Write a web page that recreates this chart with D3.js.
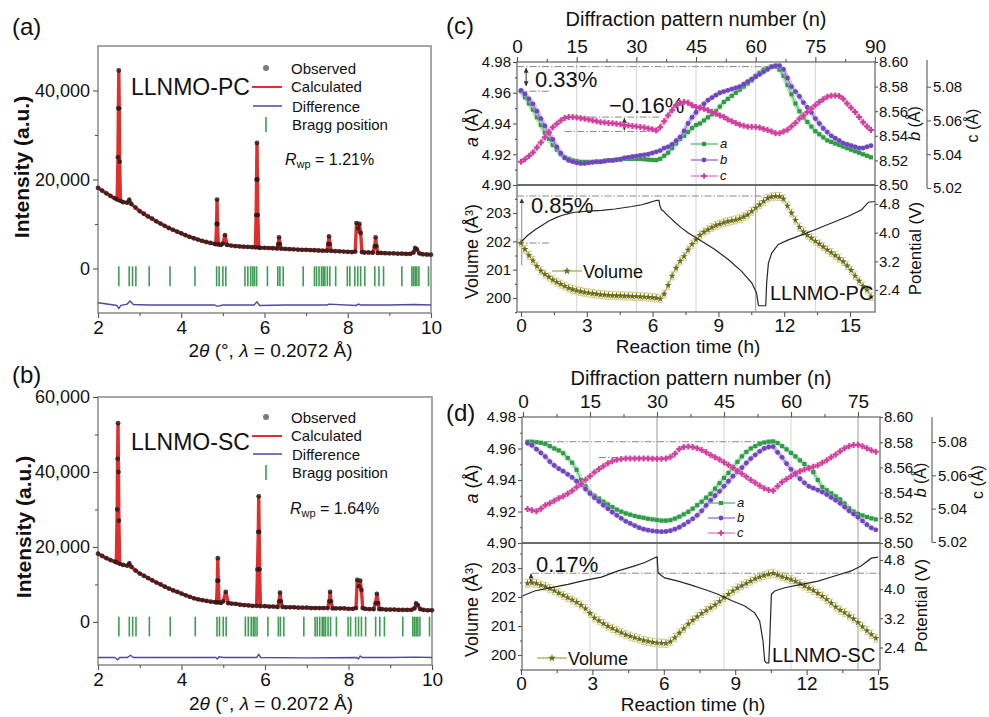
<!DOCTYPE html>
<html>
<head>
<meta charset="utf-8">
<script src="https://cdn.jsdelivr.net/npm/d3@7"></script>
<style>
  body { margin: 0; background: #fff; }
</style>
</head>
<body>
<svg id="fig" width="989" height="717"></svg>
<script>
var FONT = "'Liberation Sans', Arial, Helvetica, sans-serif";

// ---------------- data ----------------
// XRD, 2theta ticks
var xrdTicks = [2, 4, 6, 8, 10];
var xrdMinor = [3, 5, 7, 9];

// LLNMO-PC refinement profile [2theta, intensity]
var pcProfile = [[2.0,18100],[2.1,17500],[2.2,16900],[2.3,16300],[2.4,15800],[2.46,15500],[2.48,25000],[2.49,36000],[2.50,44500],[2.51,36000],[2.52,24000],[2.54,15200],
  [2.6,14900],[2.7,14800],[2.75,15400],[2.8,14500],[2.9,13700],[3.0,12900],[3.1,12300],[3.2,11700],[3.3,11200],[3.4,10600],[3.5,10100],[3.6,9600],[3.7,9100],
  [3.8,8700],[3.9,8300],[4.0,7900],[4.1,7500],[4.2,7100],[4.3,6800],[4.4,6500],[4.5,6200],[4.6,5950],[4.7,5750],[4.8,5550],[4.83,5500],[4.85,10000],[4.86,15500],
  [4.87,10000],[4.89,5400],[4.95,5300],[5.0,5600],[5.05,7500],[5.1,5300],[5.2,5150],[5.3,5050],[5.4,4950],[5.5,4900],[5.6,4850],[5.7,4800],[5.78,4750],
  [5.80,12000],[5.81,20000],[5.82,28200],[5.83,20000],[5.84,12000],[5.86,4700],[5.9,4650],[6.0,4650],[6.1,4600],[6.2,4550],[6.3,4500],[6.33,5500],[6.35,7000],
  [6.37,5500],[6.4,4450],[6.5,4400],[6.6,4350],[6.7,4300],[6.8,4250],[6.9,4200],[7.0,4200],[7.1,4150],[7.2,4100],[7.3,4050],[7.4,4000],[7.5,4000],[7.53,5500],
  [7.55,7200],[7.57,5500],[7.6,3950],[7.7,3900],[7.8,3850],[7.9,3800],[8.0,3750],[8.1,3700],[8.18,3800],[8.21,10200],[8.25,9000],[8.28,10000],[8.31,8000],
  [8.34,3700],[8.4,3600],[8.5,3600],[8.6,3550],[8.65,5000],[8.67,7000],[8.69,5000],[8.72,3500],[8.8,3500],[8.9,3450],[9.0,3400],[9.1,3400],[9.2,3350],
  [9.3,3350],[9.4,3300],[9.5,3300],[9.58,3600],[9.62,4600],[9.66,4300],[9.72,3400],[9.8,3200],[9.9,3150],[10.0,3100]];
var pcDiff = [[2.0,-7700],[2.3,-8100],[2.45,-8300],[2.5,-9000],[2.55,-8300],[2.7,-8000],[2.77,-7300],[2.85,-8100],[3.2,-8200],[4.0,-8200],[4.8,-8200],[4.86,-8500],
  [5.0,-8200],[5.75,-8200],[5.82,-7500],[5.88,-8300],[6.5,-8200],[7.5,-8200],[7.55,-8000],[8.2,-8300],[8.26,-8000],[8.3,-8200],[9.0,-8200],[9.6,-8100],[10.0,-8200]];

// LLNMO-SC refinement profile [2theta, intensity]
var scProfile = [[2.0,18200],[2.1,17600],[2.2,17000],[2.3,16500],[2.4,16100],[2.44,15900],[2.46,30000],[2.47,43500],[2.48,53000],[2.49,40000],[2.50,27000],[2.52,15500],
  [2.6,15200],[2.7,15000],[2.75,15600],[2.8,14700],[2.9,13700],[3.0,12900],[3.1,12300],[3.2,11700],[3.3,11100],[3.4,10500],[3.5,10000],[3.6,9400],[3.7,8900],
  [3.8,8400],[3.9,8000],[4.0,7550],[4.1,7100],[4.2,6700],[4.3,6300],[4.4,6000],[4.5,5800],[4.6,5600],[4.7,5400],[4.8,5300],[4.84,5200],[4.86,11000],[4.87,17000],
  [4.88,11000],[4.90,5200],[4.95,5100],[5.0,5500],[5.06,8000],[5.12,5000],[5.2,4900],[5.3,4800],[5.4,4600],[5.5,4500],[5.6,4400],[5.7,4300],[5.80,4300],
  [5.82,14000],[5.84,24000],[5.85,33500],[5.86,24000],[5.87,14000],[5.89,4200],[6.0,4200],[6.1,4100],[6.2,4100],[6.3,4000],[6.34,5500],[6.36,7800],[6.38,5500],
  [6.42,4000],[6.5,3900],[6.6,3900],[6.7,3900],[6.8,3800],[6.9,3800],[7.0,3800],[7.1,3700],[7.2,3700],[7.3,3700],[7.4,3700],[7.5,3700],[7.54,5500],[7.56,8000],
  [7.58,5500],[7.62,3600],[7.7,3600],[7.8,3600],[7.9,3600],[8.0,3500],[8.1,3500],[8.18,3700],[8.21,11200],[8.25,9500],[8.28,11000],[8.31,8500],[8.34,3700],
  [8.4,3500],[8.5,3400],[8.6,3400],[8.65,5000],[8.68,7500],[8.71,5000],[8.74,3400],[8.8,3400],[8.9,3300],[9.0,3300],[9.1,3300],[9.2,3200],[9.3,3200],[9.4,3200],
  [9.5,3200],[9.58,3600],[9.62,4900],[9.66,4500],[9.72,3400],[9.8,3200],[9.9,3100],[10.0,3100]];
var scDiff = [[2.0,-9500],[2.4,-9500],[2.47,-10100],[2.52,-9500],[2.7,-9500],[2.78,-8900],[2.85,-9500],[4.0,-9500],[4.82,-9500],[4.86,-9900],[4.9,-9300],[5.0,-9500],
  [5.8,-9500],[5.85,-8700],[5.9,-9500],[7.0,-9600],[8.2,-9500],[8.24,-9900],[8.28,-9100],[8.33,-9500],[9.0,-9500],[9.6,-9400],[10.0,-9500]];

// Bragg reflections (2theta)
var braggPos = [2.50,2.75,2.83,2.91,3.23,3.73,4.33,4.85,4.91,5.00,5.07,5.53,5.60,5.67,5.72,5.76,5.81,6.07,6.32,6.37,6.45,6.93,7.20,7.25,7.31,7.37,
  7.41,7.45,7.51,7.57,7.71,7.99,8.05,8.17,8.24,8.31,8.41,8.65,8.75,8.86,9.30,9.54,9.58,9.62,9.66,9.71,9.94];

// operando lattice parameters, one value per diffraction pattern n = 1, 2, ...
var pcA = [4.961,4.957,4.953,4.949,4.944,4.939,4.934,4.930,4.926,4.923,
  4.920,4.918,4.917,4.916,4.9155,4.915,4.915,4.915,4.915,4.915,
  4.915,4.9155,4.916,4.916,4.9165,4.9165,4.917,4.917,4.917,4.917,
  4.917,4.9168,4.9165,4.9163,4.9162,4.917,4.919,4.921,4.924,4.927,
  4.930,4.932,4.9345,4.937,4.939,4.940,4.942,4.944,4.946,4.948,
  4.951,4.954,4.956,4.958,4.960,4.962,4.964,4.966,4.968,4.971,
  4.973,4.975,4.976,4.977,4.977,4.975,4.971,4.965,4.959,4.953,
  4.948,4.944,4.941,4.938,4.935,4.933,4.931,4.929,4.928,4.927,
  4.926,4.925,4.924,4.923,4.922,4.921,4.920,4.919,4.918];
var pcB = [8.577,8.574,8.570,8.566,8.560,8.554,8.548,8.542,8.537,8.531,
  8.526,8.522,8.520,8.519,8.518,8.5175,8.5175,8.518,8.5185,8.519,
  8.519,8.5195,8.520,8.520,8.5205,8.521,8.522,8.5225,8.523,8.5235,
  8.524,8.5245,8.525,8.526,8.527,8.528,8.530,8.531,8.533,8.536,
  8.539,8.544,8.550,8.555,8.559,8.563,8.566,8.569,8.571,8.573,
  8.575,8.576,8.577,8.578,8.579,8.580,8.582,8.584,8.586,8.588,
  8.590,8.592,8.594,8.596,8.597,8.597,8.594,8.587,8.580,8.576,
  8.572,8.567,8.563,8.559,8.554,8.550,8.546,8.543,8.540,8.538,
  8.536,8.534,8.533,8.532,8.531,8.530,8.530,8.531,8.532];
var pcC = [5.0355,5.037,5.039,5.041,5.044,5.047,5.050,5.053,5.056,5.058,
  5.060,5.0615,5.062,5.062,5.0618,5.0613,5.061,5.0605,5.060,5.0595,
  5.059,5.0588,5.0585,5.0583,5.058,5.0577,5.0573,5.057,5.0567,5.0565,
  5.0562,5.0558,5.0553,5.0548,5.054,5.056,5.0595,5.063,5.066,5.069,
  5.0705,5.071,5.0705,5.069,5.068,5.0675,5.067,5.066,5.065,5.064,
  5.063,5.062,5.0605,5.0595,5.0585,5.0575,5.0568,5.0563,5.0563,5.0562,
  5.0558,5.055,5.0543,5.0535,5.0525,5.0525,5.0535,5.0545,5.0565,5.0585,
  5.061,5.063,5.065,5.067,5.069,5.071,5.0725,5.074,5.0747,5.0748,
  5.0745,5.0728,5.070,5.0675,5.065,5.062,5.059,5.0565,5.0543];
var pcVol = [201.94,201.72,201.50,201.32,201.12,200.96,200.84,200.74,200.64,200.56,
  200.49,200.42,200.35,200.30,200.26,200.23,200.20,200.18,200.16,200.14,
  200.12,200.11,200.10,200.09,200.08,200.08,200.07,200.07,200.06,200.06,
  200.05,200.04,200.03,200.02,200.00,199.97,200.14,200.45,200.78,201.06,
  201.30,201.47,201.70,201.90,202.06,202.22,202.33,202.41,202.49,202.56,
  202.61,202.66,202.70,202.73,202.76,202.80,202.87,202.94,203.06,203.18,
  203.29,203.41,203.52,203.57,203.59,203.58,203.50,203.25,203.00,202.75,
  202.50,202.34,202.22,202.12,202.01,201.91,201.81,201.70,201.60,201.50,
  201.40,201.29,201.14,200.98,200.78,200.60,200.42,200.29,200.05];
// potential [time h, V]
var pcPot = [[0.03,3.76],[0.3,3.92],[0.64,4.08],[1.0,4.22],[1.25,4.32],[1.6,4.42],[1.85,4.48],[2.2,4.54],[2.46,4.57],[3.07,4.60],[3.68,4.62],[4.29,4.66],
  [5.05,4.73],[5.5,4.78],[5.81,4.83],[6.0,4.87],[6.19,4.90],[6.29,4.90],[6.34,4.73],[6.41,4.64],[6.5,4.60],[6.57,4.55],[6.72,4.46],[7.02,4.29],[7.3,4.14],
  [7.63,3.99],[8.24,3.76],[8.84,3.53],[9.45,3.25],[10.06,2.92],[10.52,2.60],[10.74,2.32],[10.82,1.99],[10.85,1.96],[11.16,1.96],[11.2,2.60],[11.28,3.15],
  [11.43,3.43],[11.73,3.67],[12.19,3.80],[12.8,3.94],[13.4,4.08],[14.16,4.27],[14.92,4.46],[15.53,4.64],[15.84,4.85],[16.14,4.87]];

var scA = [4.9643,4.9643,4.9640,4.9636,4.9630,4.9615,4.9600,4.9588,4.9570,4.9540,
  4.9510,4.9465,4.9400,4.9360,4.9320,4.9300,4.9282,4.9262,4.9245,4.9228,
  4.9212,4.9199,4.9188,4.9180,4.9172,4.9165,4.9160,4.9154,4.9150,4.9146,
  4.9142,4.9142,4.9145,4.9155,4.9167,4.9182,4.9198,4.9218,4.9240,4.9262,
  4.9288,4.9312,4.9345,4.9380,4.9413,4.9445,4.9478,4.9515,4.9550,4.9578,
  4.9600,4.9615,4.9630,4.9638,4.9643,4.9645,4.9635,4.9615,4.9595,4.9572,
  4.9550,4.9525,4.9502,4.9478,4.9450,4.9400,4.9355,4.9335,4.9315,4.9296,
  4.9277,4.9250,4.9220,4.9200,4.9185,4.9175,4.9165,4.9157,4.9150];
var scB = [8.5791,8.5775,8.5745,8.5715,8.5685,8.5645,8.5615,8.5590,8.5570,8.5545,
  8.5520,8.5490,8.5462,8.5428,8.5392,8.5360,8.5330,8.5300,8.5272,8.5245,
  8.5220,8.5196,8.5172,8.5155,8.5138,8.5122,8.5110,8.5102,8.5096,8.5092,
  8.5090,8.5092,8.5098,8.5110,8.5125,8.5145,8.5168,8.5192,8.5220,8.5255,
  8.5298,8.5338,8.5375,8.5410,8.5450,8.5490,8.5530,8.5565,8.5598,8.5635,
  8.5670,8.5700,8.5728,8.5750,8.5762,8.5765,8.5720,8.5680,8.5630,8.5585,
  8.5545,8.5510,8.5478,8.5450,8.5435,8.5420,8.5405,8.5385,8.5362,8.5340,
  8.5315,8.5285,8.5255,8.5230,8.5205,8.5175,8.5145,8.5120,8.5105];
var scC = [5.0398,5.0390,5.0384,5.0400,5.0420,5.0433,5.0447,5.0462,5.0475,5.0490,
  5.0508,5.0528,5.0550,5.0573,5.0595,5.0618,5.0638,5.0655,5.0672,5.0685,
  5.0693,5.0698,5.0701,5.0701,5.0701,5.0701,5.0701,5.0701,5.0700,5.0700,
  5.0700,5.0701,5.0710,5.0730,5.0758,5.0770,5.0773,5.0770,5.0762,5.0752,
  5.0738,5.0722,5.0708,5.0695,5.0678,5.0662,5.0645,5.0628,5.0610,5.0592,
  5.0572,5.0555,5.0537,5.0522,5.0512,5.0508,5.0535,5.0560,5.0578,5.0595,
  5.0612,5.0625,5.0635,5.0643,5.0652,5.0661,5.0675,5.0690,5.0708,5.0725,
  5.0745,5.0762,5.0775,5.0782,5.0783,5.0775,5.0762,5.0750,5.0741];
var scVol = [202.47,202.49,202.47,202.41,202.36,202.29,202.22,202.14,202.06,201.98,
  201.90,201.82,201.72,201.60,201.44,201.28,201.18,201.08,200.99,200.92,
  200.84,200.77,200.70,200.65,200.60,200.55,200.50,200.47,200.44,200.42,
  200.41,200.40,200.46,200.60,200.76,200.91,201.07,201.20,201.32,201.43,
  201.53,201.63,201.73,201.85,201.98,202.10,202.21,202.31,202.39,202.47,
  202.55,202.63,202.69,202.74,202.79,202.82,202.76,202.70,202.65,202.60,
  202.54,202.46,202.38,202.30,202.23,202.13,202.03,201.92,201.79,201.66,
  201.55,201.46,201.35,201.25,201.12,200.98,200.84,200.71,200.58];
var scPot = [[0,3.81],[0.08,3.82],[0.57,3.95],[1.27,4.04],[1.97,4.13],[2.68,4.24],[3.38,4.33],[4.08,4.50],[4.78,4.64],[5.2,4.73],[5.62,4.86],[5.69,4.88],
  [5.72,4.88],[5.76,4.45],[5.83,4.41],[6.04,4.31],[6.6,4.22],[7.16,4.11],[7.72,3.99],[8.28,3.86],[8.84,3.69],[9.4,3.54],[9.82,3.35],[10.03,3.12],
  [10.17,2.57],[10.24,2.03],[10.31,1.98],[10.41,1.98],[10.45,2.57],[10.52,3.86],[10.66,3.95],[11.08,4.04],[11.78,4.13],[12.48,4.22],[13.18,4.36],
  [13.88,4.50],[14.3,4.64],[14.72,4.85],[15.0,4.88]];

var volErr = 0.14;

var nTicksPC = [0, 15, 30, 45, 60, 75, 90];
var nTicksSC = [0, 15, 30, 45, 60, 75];
var timeTicks = [0, 3, 6, 9, 12, 15];
var aTicks = [4.90, 4.92, 4.94, 4.96, 4.98];
var bTicks = [8.50, 8.52, 8.54, 8.56, 8.58, 8.60];
var cTicks = [5.02, 5.04, 5.06, 5.08];
var volTicks = [200, 201, 202, 203];
var potTicks = [2.4, 3.2, 4.0, 4.8];

// ---------------- helpers ----------------
var svg = d3.select("#fig");
var defs = svg.append("defs");
defs.append("marker").attr("id", "arr").attr("viewBox", "0 0 6 6")
  .attr("refX", 5.5).attr("refY", 3).attr("markerWidth", 5).attr("markerHeight", 5)
  .attr("orient", "auto-start-reverse")
  .append("path").attr("d", "M0,0L6,3L0,6Z").attr("fill", "#333");

function text(g, x, y, s, size, o) {
  o = o || {};
  var t = g.append("text").attr("x", x).attr("y", y)
    .attr("font-size", size).attr("font-family", FONT)
    .attr("fill", o.fill || "#111").attr("text-anchor", o.anchor || "start");
  if (o.weight) t.attr("font-weight", o.weight);
  if (o.italic) t.attr("font-style", "italic");
  if (o.rotate) t.attr("transform", "rotate(-90," + x + "," + y + ")");
  if (s !== null) t.text(s);
  return t;
}

function styleAxis(sel, size) {
  sel.select(".domain").remove();
  sel.selectAll(".tick line").attr("stroke", "#555").attr("stroke-width", 1.1);
  sel.selectAll(".tick text").attr("font-size", size).attr("font-family", FONT).attr("fill", "#111");
  return sel;
}

function axis(g, gen, tx, ty, size) {
  var a = g.append("g").attr("transform", "translate(" + tx + "," + ty + ")").call(gen);
  return styleAxis(a, size);
}

function dashLine(g, x1, y1, x2, y2) {
  g.append("line").attr("x1", x1).attr("y1", y1).attr("x2", x2).attr("y2", y2)
    .attr("stroke", "#888").attr("stroke-width", 1).attr("stroke-dasharray", "7,2,1.5,2");
}

function arrow(g, x, y1, y2, both, color) {
  var l = g.append("line").attr("x1", x).attr("y1", y1).attr("x2", x).attr("y2", y2)
    .attr("stroke", color || "#333").attr("stroke-width", 1).attr("marker-end", "url(#arr)");
  if (both) l.attr("marker-start", "url(#arr)");
}

// ---------------- XRD panels ----------------
function xrdPanel(o) {
  var g = svg.append("g");
  var x = d3.scaleLinear().domain([2, 10]).range([o.left, o.right]);
  var y = d3.scaleLinear().domain(o.yDom).range([o.bottom, o.top]);

  g.append("rect").attr("x", o.left).attr("y", o.top)
    .attr("width", o.right - o.left).attr("height", o.bottom - o.top)
    .attr("fill", "none").attr("stroke", "#8a8a8a").attr("stroke-width", 1.5);

  g.selectAll(".bragg").data(braggPos).join("line")
    .attr("x1", function(d) { return x(d); }).attr("x2", function(d) { return x(d); })
    .attr("y1", y(o.braggTop)).attr("y2", y(o.braggBot))
    .attr("stroke", "#3f9c55").attr("stroke-width", 1.6);

  var line = d3.line().x(function(d) { return x(d[0]); }).y(function(d) { return y(d[1]); });
  g.append("path").datum(o.diff).attr("d", line)
    .attr("fill", "none").attr("stroke", "#4a4aa6").attr("stroke-width", 1.4);
  g.append("path").datum(o.profile).attr("d", line)
    .attr("fill", "none").attr("stroke", "#e0302e").attr("stroke-width", 3.4);
  g.selectAll(".obs").data(o.profile).join("circle")
    .attr("cx", function(d) { return x(d[0]); }).attr("cy", function(d) { return y(d[1]); })
    .attr("r", 2.4).attr("fill", "#2e1a1a").attr("fill-opacity", 0.85);

  axis(g, d3.axisBottom(x).tickValues(xrdTicks).tickSize(5).tickPadding(3).tickFormat(d3.format("d")), 0, o.bottom, 19);
  axis(g, d3.axisBottom(x).tickValues(xrdMinor).tickSize(3).tickFormat(""), 0, o.bottom, 10);
  axis(g, d3.axisLeft(y).tickValues(o.yTicks).tickSize(5).tickPadding(3).tickFormat(d3.format(",")), o.left, 0, 18);
  axis(g, d3.axisLeft(y).tickValues(o.yMinor).tickSize(3).tickFormat(""), o.left, 0, 10);

  // x title
  var t = text(g, (o.left + o.right) / 2 + 6, o.xTitleY, null, 19, { anchor: "middle" });
  t.append("tspan").text("2");
  t.append("tspan").attr("font-style", "italic").text("θ");
  t.append("tspan").text(" (°, ");
  t.append("tspan").attr("font-style", "italic").text("λ");
  t.append("tspan").text(" = 0.2072 Å)");
  // y title
  text(g, o.yTitleX, o.yTitleY, "Intensity (a.u.)", 21, { anchor: "middle", weight: "bold", rotate: true });

  // legend
  var L = o.legend;
  g.append("circle").attr("cx", 266).attr("cy", L[0] - 6).attr("r", 3).attr("fill", "#7a7a7a");
  text(g, 291, L[0], "Observed", 15);
  g.append("line").attr("x1", 252).attr("x2", 282).attr("y1", L[1] - 5).attr("y2", L[1] - 5)
    .attr("stroke", "#e0302e").attr("stroke-width", 2);
  text(g, 291, L[1], "Calculated", 15);
  g.append("line").attr("x1", 253).attr("x2", 282).attr("y1", L[2] - 6).attr("y2", L[2] - 6)
    .attr("stroke", "#4a4aa6").attr("stroke-width", 1.5);
  text(g, 292, L[2], "Difference", 15);
  g.append("line").attr("x1", 266).attr("x2", 266).attr("y1", L[3] - 13).attr("y2", L[3] + 2)
    .attr("stroke", "#3f9c55").attr("stroke-width", 1.6);
  text(g, 292, L[3], "Bragg position", 15);

  text(g, 131, o.nameY, o.name, 23);
  var r = text(g, o.rwpX, o.rwpY, null, 16);
  r.append("tspan").attr("font-style", "italic").text("R");
  r.append("tspan").attr("font-size", 11).attr("dy", 3).text("wp");
  r.append("tspan").attr("dy", -3).text(" = " + o.rwp);

  text(svg, 12, o.tagY, o.tag, 24);
}

xrdPanel({
  left: 98, right: 431, top: 46, bottom: 313, yDom: [-10000, 50000],
  yTicks: [0, 20000, 40000], yMinor: [10000, 30000],
  profile: pcProfile, diff: pcDiff, braggTop: 500, braggBot: -4000,
  xTitleY: 357, yTitleX: 29, yTitleY: 167,
  legend: [74, 92, 112, 130], name: "LLNMO-PC", nameY: 95,
  rwp: "1.21%", rwpX: 285, rwpY: 165, tag: "(a)", tagY: 35
});
xrdPanel({
  left: 98, right: 432, top: 397, bottom: 665, yDom: [-11500, 60000],
  yTicks: [0, 20000, 40000, 60000], yMinor: [10000, 30000, 50000],
  profile: scProfile, diff: scDiff, braggTop: 1400, braggBot: -3900,
  xTitleY: 710, yTitleX: 31, yTitleY: 527,
  legend: [423, 441, 460, 478], name: "LLNMO-SC", nameY: 450,
  rwp: "1.64%", rwpX: 290, rwpY: 514, tag: "(b)", tagY: 383
});

// ---------------- operando panels ----------------
function series(g, vals, xs, ys, color, halo, shape, size) {
  var line = d3.line().x(function(d, i) { return xs(i + 1); }).y(function(d) { return ys(d); });
  g.append("path").datum(vals).attr("d", line).attr("fill", "none")
    .attr("stroke", halo).attr("stroke-width", 5).attr("stroke-opacity", 0.6);
  g.append("path").datum(vals).attr("d", line).attr("fill", "none")
    .attr("stroke", color).attr("stroke-width", 1).attr("stroke-opacity", 0.7);
  g.selectAll(null).data(vals).join("path")
    .attr("d", d3.symbol().type(shape).size(size))
    .attr("transform", function(d, i) { return "translate(" + xs(i + 1) + "," + ys(d) + ")"; })
    .attr("fill", color);
}

function volumeSeries(g, vals, xs, ys) {
  g.selectAll(null).data(vals).join("path")
    .attr("d", function(d, i) {
      var x = xs(i + 1), y1 = ys(d - volErr), y2 = ys(d + volErr);
      return "M" + x + "," + y1 + "V" + y2 + "M" + (x - 2.5) + "," + y1 + "h5M" + (x - 2.5) + "," + y2 + "h5";
    })
    .attr("fill", "none").attr("stroke", "#d2cf86").attr("stroke-width", 1);
  g.append("path").datum(vals)
    .attr("d", d3.line().x(function(d, i) { return xs(i + 1); }).y(function(d) { return ys(d); }))
    .attr("fill", "none").attr("stroke", "#a9a855").attr("stroke-width", 1);
  g.selectAll(null).data(vals).join("path")
    .attr("d", d3.symbol().type(d3.symbolStar).size(16))
    .attr("transform", function(d, i) { return "translate(" + xs(i + 1) + "," + ys(d) + ")"; })
    .attr("fill", "#6a6b1c");
}

function operando(o) {
  var g = svg.append("g");
  var nS = d3.scaleLinear().domain(o.nDom).range(o.nRange);
  var tS = d3.scaleLinear().domain([0, 15]).range(o.tRange);
  var aS = d3.scaleLinear().domain([4.90, 4.98]).range([o.mid, o.top]);
  var bS = d3.scaleLinear().domain([8.50, 8.60]).range([o.mid, o.top]);
  var cS = d3.scaleLinear().domain([5.02, 5.08]).range(o.cRange);
  var vS = d3.scaleLinear().domain([200, 203]).range(o.vRange);
  var pS = d3.scaleLinear().domain([2.4, 4.8]).range(o.pRange);
  var L = o.left, R = o.right;

  // grid lines
  [15, 30, 45, 60, 75].forEach(function(n) {
    g.append("line").attr("x1", nS(n)).attr("x2", nS(n)).attr("y1", o.top).attr("y2", o.mid)
      .attr("stroke", o.darkTop.indexOf(n) >= 0 ? "#9a9a9a" : "#d4d4d4").attr("stroke-width", 1);
    g.append("line").attr("x1", nS(n)).attr("x2", nS(n)).attr("y1", o.mid).attr("y2", o.bottom)
      .attr("stroke", o.darkBot.indexOf(n) >= 0 ? "#9a9a9a" : "#d4d4d4").attr("stroke-width", 1);
  });

  // annotations under data
  o.annot(g, nS, tS, aS, bS, cS, vS, pS);

  // lattice parameters
  series(g, o.a, nS, aS, "#2f9b46", "#95d6a1", d3.symbolSquare, 17);
  series(g, o.b, nS, bS, "#7046c0", "#b8a0e4", d3.symbolCircle, 18);
  series(g, o.c, nS, cS, "#cf3f9c", "#efa9d7", d3.symbolCross, 20);

  // volume + potential
  volumeSeries(g, o.vol, nS, vS);
  g.append("path").datum(o.pot)
    .attr("d", d3.line().x(function(d) { return tS(d[0]); }).y(function(d) { return pS(d[1]); }))
    .attr("fill", "none").attr("stroke", "#262626").attr("stroke-width", 1.2);

  // frames
  g.append("rect").attr("x", L).attr("y", o.top).attr("width", R - L).attr("height", o.bottom - o.top)
    .attr("fill", "none").attr("stroke", "#7a7a7a").attr("stroke-width", 1.4);
  g.append("line").attr("x1", L).attr("x2", R).attr("y1", o.mid).attr("y2", o.mid)
    .attr("stroke", "#6a6a6a").attr("stroke-width", 2);

  // axes
  axis(g, d3.axisTop(nS).tickValues(o.nTicks).tickSize(5).tickPadding(4), 0, o.top, 19);
  axis(g, d3.axisTop(nS).tickValues(o.nTicks.map(function(d) { return d + 7.5; }).filter(function(d) { return d < o.nDom[1] + 5; })).tickSize(3).tickFormat(""), 0, o.top, 10);
  axis(g, d3.axisBottom(tS).tickValues(timeTicks).tickSize(5).tickPadding(2), 0, o.bottom, 19);
  axis(g, d3.axisBottom(tS).tickValues([1.5, 4.5, 7.5, 10.5, 13.5]).tickSize(3).tickFormat(""), 0, o.bottom, 10);
  axis(g, d3.axisLeft(aS).tickValues(aTicks).tickSize(4).tickPadding(2).tickFormat(d3.format(".2f")), L, 0, 15);
  axis(g, d3.axisLeft(aS).tickValues([4.91, 4.93, 4.95, 4.97]).tickSize(2).tickFormat(""), L, 0, 10);
  axis(g, d3.axisRight(bS).tickValues(bTicks).tickSize(3).tickPadding(1).tickFormat(d3.format(".2f")), R, 0, 15);
  axis(g, d3.axisLeft(vS).tickValues(volTicks).tickSize(4).tickPadding(2).tickFormat(d3.format("d")), L, 0, 15);
  axis(g, d3.axisLeft(vS).tickValues([199.5, 200.5, 201.5, 202.5, 203.5]).tickSize(2).tickFormat(""), L, 0, 10);
  axis(g, d3.axisRight(pS).tickValues(potTicks).tickSize(3).tickPadding(1).tickFormat(d3.format(".1f")), R, 0, 15);
  // separate c axis
  var cAx = g.append("g").attr("transform", "translate(" + o.cX + ",0)")
    .call(d3.axisRight(cS).tickValues(cTicks).tickSize(4).tickPadding(2).tickSizeOuter(0).tickFormat(d3.format(".2f")));
  cAx.selectAll(".tick line").attr("stroke", "#555");
  cAx.selectAll(".tick text").attr("font-size", 15).attr("font-family", FONT).attr("fill", "#111");
  cAx.select(".domain").attr("d", "M0," + cS(5.02) + "V" + o.cTop).attr("stroke", "#666").attr("stroke-width", 1.2);

  // titles
  text(g, (L + R) / 2, o.nTitleY, "Diffraction pattern number (n)", 20, { anchor: "middle" });
  text(g, (L + R) / 2 - 8, o.tTitleY, "Reaction time (h)", 19, { anchor: "middle" });
  var ta = text(g, 478, (o.top + o.mid) / 2 + 4, null, 18, { anchor: "middle", rotate: true });
  ta.append("tspan").attr("font-style", "italic").text("a");
  ta.append("tspan").text(" (Å)");
  text(g, 478, (o.mid + o.bottom) / 2 + 3, "Volume (Å³)", 18, { anchor: "middle", rotate: true });
  var tb = text(g, o.bTitleX, (o.top + o.mid) / 2, null, 16, { anchor: "middle", rotate: true });
  tb.append("tspan").attr("font-style", "italic").text("b");
  tb.append("tspan").text(" (Å)");
  text(g, o.cX + 51, (o.top + o.mid) / 2 + 2, "c (Å)", 16, { anchor: "middle", rotate: true });
  text(g, o.bTitleX + 1, (o.mid + o.bottom) / 2 + o.potTitleDy, "Potential (V)", 17, { anchor: "middle", rotate: true });

  // legends
  var legs = [["a", "#2f9b46", "#6cc07e", d3.symbolSquare], ["b", "#7046c0", "#9e83d8", d3.symbolCircle], ["c", "#cf3f9c", "#e48cc4", d3.symbolCross]];
  legs.forEach(function(d, i) {
    var y = o.legY[i];
    g.append("line").attr("x1", o.legX).attr("x2", o.legX + 27).attr("y1", y).attr("y2", y)
      .attr("stroke", d[2]).attr("stroke-width", 1.5);
    g.append("path").attr("d", d3.symbol().type(d[3]).size(18)())
      .attr("transform", "translate(" + (o.legX + 13) + "," + y + ")").attr("fill", d[1]);
    text(g, o.legX + 29, y + 4, d[0], 13, { italic: true });
  });
  g.append("line").attr("x1", o.volLeg[0]).attr("x2", o.volLeg[0] + 30).attr("y1", o.volLeg[1]).attr("y2", o.volLeg[1])
    .attr("stroke", "#b5b46a").attr("stroke-width", 1.5);
  g.append("path").attr("d", d3.symbol().type(d3.symbolStar).size(20)())
    .attr("transform", "translate(" + (o.volLeg[0] + 15) + "," + o.volLeg[1] + ")").attr("fill", "#6a6b1c");
  text(g, o.volLeg[0] + 31, o.volLeg[1] + 7, "Volume", 18);
  text(g, o.nameX, o.nameY, o.name, 20);

  text(svg, 446, o.tagY, o.tag, 24);
}

operando({
  left: 517, right: 875, top: 62, mid: 185, bottom: 312,
  nDom: [0, 90], nRange: [517, 875], tRange: [521, 850], nTicks: nTicksPC,
  cRange: [188, 86.7], cX: 927, cTop: 60,
  vRange: [298, 213], pRange: [290, 204],
  a: pcA, b: pcB, c: pcC, vol: pcVol, pot: pcPot,
  darkTop: [], darkBot: [60],
  nTitleY: 26, tTitleY: 353, bTitleX: 920, potTitleDy: 0,
  legX: 691, legY: [144, 160, 176], volLeg: [552, 271],
  name: "LLNMO-PC", nameX: 770, nameY: 300, tag: "(c)", tagY: 34,
  annot: function(g, nS, tS, aS, bS, cS, vS, pS) {
    dashLine(g, nS(0), aS(4.977), nS(63), aS(4.977));
    dashLine(g, nS(0), aS(4.961), nS(8), aS(4.961));
    arrow(g, nS(2.3), aS(4.9645), aS(4.976), true);
    text(g, nS(4.5), 87, "0.33%", 22);
    dashLine(g, nS(12), cS(5.062), nS(36), cS(5.062));
    dashLine(g, nS(12), cS(5.0535), nS(36), cS(5.0535));
    arrow(g, nS(27), cS(5.0612), cS(5.0543), true);
    text(g, 609, 113, "\u22120.16%", 22);
    dashLine(g, nS(0), vS(203.6), nS(67), vS(203.6));
    dashLine(g, nS(0), vS(201.94), nS(8), vS(201.94));
    arrow(g, nS(1.2), vS(201.15), vS(203.5), false, "#888");
    text(g, 531, 213, "0.85%", 22);
  }
});

operando({
  left: 522, right: 880, top: 417, mid: 543, bottom: 670,
  nDom: [0, 75], nRange: [523, 858], tRange: [521, 878], nTicks: nTicksSC,
  cRange: [542, 442], cX: 932, cTop: 417,
  vRange: [655, 568], pRange: [647.5, 560],
  a: scA, b: scB, c: scC, vol: scVol, pot: scPot,
  darkTop: [30, 75], darkBot: [30, 75],
  nTitleY: 385, tTitleY: 711, bTitleX: 926, potTitleDy: -1,
  legX: 708, legY: [503, 518, 533], volLeg: [537, 658],
  name: "LLNMO-SC", nameX: 772, nameY: 662, tag: "(d)", tagY: 421,
  annot: function(g, nS, tS, aS, bS, cS, vS, pS) {
    dashLine(g, nS(2), aS(4.9643), nS(57), aS(4.9643));
    dashLine(g, nS(17), cS(5.0707), nS(34), cS(5.0707));
    dashLine(g, nS(2), vS(202.82), 880, vS(202.82));
    arrow(g, nS(1.8), vS(202.8), vS(202.5), true);
    text(g, 536, 572, "0.17%", 22);
  }
});
</script>
</body>
</html>
